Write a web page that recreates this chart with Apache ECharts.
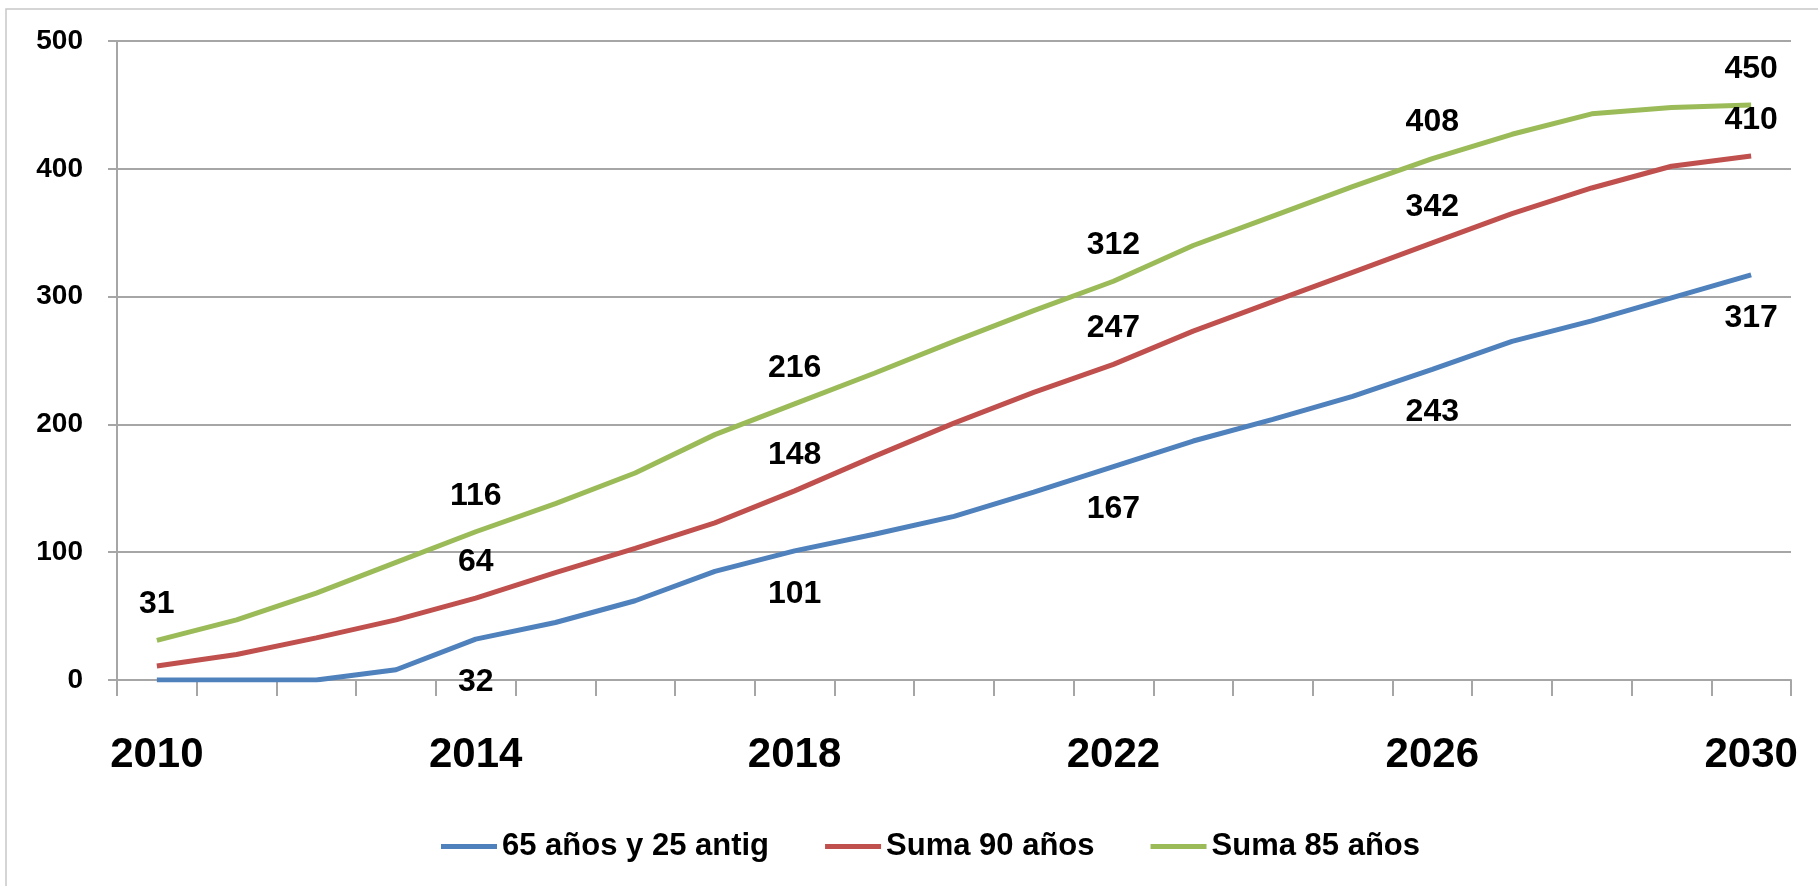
<!DOCTYPE html>
<html>
<head>
<meta charset="utf-8">
<script src="https://cdn.jsdelivr.net/npm/echarts@6/dist/echarts.min.js"></script>
<style>
  html, body { margin: 0; padding: 0; background: #fff; }
  #chart { width: 1818px; height: 886px; }
</style>
</head>
<body>
<div id="chart"></div>
<script>
// years on the x axis
var years = ['2010','2011','2012','2013','2014','2015','2016','2017','2018','2019','2020',
             '2021','2022','2023','2024','2025','2026','2027','2028','2029','2030'];

// series values
var edad65 = [0, 0, 0, 8, 32, 45, 62, 85, 101, 114, 128, 147, 167, 187, 204, 222, 243, 265, 281, 299, 317];
var suma90 = [11, 20, 33, 47, 64, 84, 103, 123, 148, 175, 201, 225, 247, 273, 296, 319, 342, 365, 385, 402, 410];
var suma85 = [31, 47, 68, 92, 116, 138, 162, 192, 216, 240, 265, 289, 312, 340, 363, 386, 408, 427, 443, 448, 450];

// which points carry a value label
var labelsEdad65 = [4, 8, 12, 16, 20];
var labelsSuma90 = [4, 8, 12, 16, 20];
var labelsSuma85 = [0, 4, 8, 12, 16, 20];

var FONT = "'Liberation Sans', Arial, sans-serif";

function mkLabel(idx, pos, dist){
  return {
    show: true,
    position: pos,
    distance: dist,
    color: '#000',
    fontFamily: FONT,
    fontWeight: 'bold',
    fontSize: 32,
    formatter: function(p){
      return idx.indexOf(p.dataIndex) >= 0 ? String(p.value) : '';
    }
  };
}

function mkSeries(name, data, color, label){
  return {
    name: name,
    type: 'line',
    data: data,
    symbol: 'circle',
    symbolSize: 0,
    showSymbol: true,
    lineStyle: { color: color, width: 5 },
    itemStyle: { color: color },
    label: label,
    emphasis: { disabled: true },
    z: 3
  };
}

var chart = echarts.init(document.getElementById('chart'));
chart.setOption({
  animation: false,
  backgroundColor: '#fff',
  graphic: [
    { type: 'rect', shape: { x: 6, y: 9, width: 2000, height: 1000 },
      style: { fill: 'none', stroke: '#c8c8c8', lineWidth: 1.5 }, z: -1 }
  ],
  grid: { left: 117, right: 27, top: 41, bottom: 206 },
  legend: {
    top: 826,
    left: 436,
    icon: 'rect',
    itemWidth: 56,
    itemHeight: 5,
    itemGap: 56,
    textStyle: { fontFamily: FONT, fontWeight: 'bold', fontSize: 31, color: '#000', padding: [0, 0, 0, 0] },
    data: ['65 años y 25 antig', 'Suma 90 años', 'Suma 85 años']
  },
  xAxis: {
    type: 'category',
    data: years,
    boundaryGap: true,
    axisLine: { lineStyle: { color: '#a6a6a6', width: 2 } },
    axisTick: { show: true, interval: 0, length: 16, lineStyle: { color: '#a6a6a6', width: 2 } },
    axisLabel: {
      interval: 3,
      margin: 54,
      color: '#000',
      fontFamily: FONT,
      fontWeight: 'bold',
      fontSize: 42
    },
    splitLine: { show: false }
  },
  yAxis: {
    type: 'value',
    min: 0,
    max: 500,
    interval: 100,
    axisLine: { show: true, lineStyle: { color: '#a6a6a6', width: 2 } },
    axisTick: { show: true, length: 9, lineStyle: { color: '#a6a6a6', width: 2 } },
    axisLabel: {
      margin: 34,
      color: '#000',
      fontFamily: FONT,
      fontWeight: 'bold',
      fontSize: 28
    },
    splitLine: { lineStyle: { color: '#a6a6a6', width: 2 } }
  },
  series: [
    mkSeries('65 años y 25 antig', edad65, '#4f81bd', mkLabel(labelsEdad65, 'bottom', 27)),
    mkSeries('Suma 90 años', suma90, '#c0504d', mkLabel(labelsSuma90, 'top', 20)),
    mkSeries('Suma 85 años', suma85, '#9bbb59', mkLabel(labelsSuma85, 'top', 20))
  ]
});
</script>
</body>
</html>
